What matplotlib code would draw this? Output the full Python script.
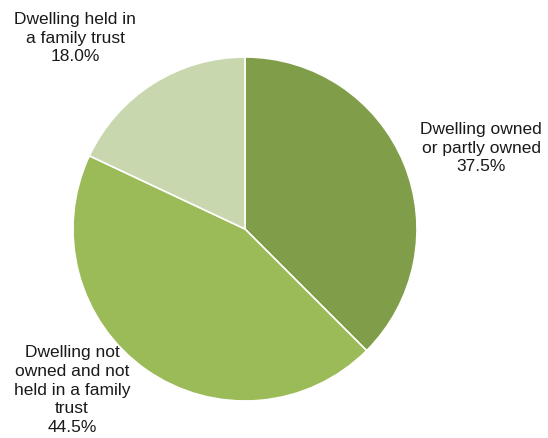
import matplotlib.pyplot as plt

labels = ['Dwelling owned\nor partly owned', 'Dwelling not\nowned and not\nheld in a family\ntrust', 'Dwelling held in\na family trust']
values = [37.5, 44.5, 18.0]
colors = ['#809E4A', '#9BBB59', '#C8D7AD']

plt.rcParams['font.family'] = ['Liberation Sans', 'DejaVu Sans']

fig = plt.figure(figsize=(5.48, 4.38), dpi=100)
ax = fig.add_axes([0, 0, 1, 1])

wedges, _ = ax.pie(values, colors=colors, startangle=90, counterclock=False,
                   center=(245, 209), radius=172,
                   wedgeprops=dict(edgecolor='white', linewidth=1.2))

ax.set_xlim(0, 548)
ax.set_ylim(0, 438)
ax.set_aspect('equal')
ax.axis('off')

# label positions in pixel space
label_pos = [(481, 148), (72, 390), (75, 38)]
for lab, v, (x, y) in zip(labels, values, label_pos):
    ax.text(x, 438 - y, f'{lab}\n{v:.1f}%', ha='center', va='center',
            fontsize=12.5, linespacing=1.3, color='#1a1a1a')

fig.savefig('out.png', dpi=100)
